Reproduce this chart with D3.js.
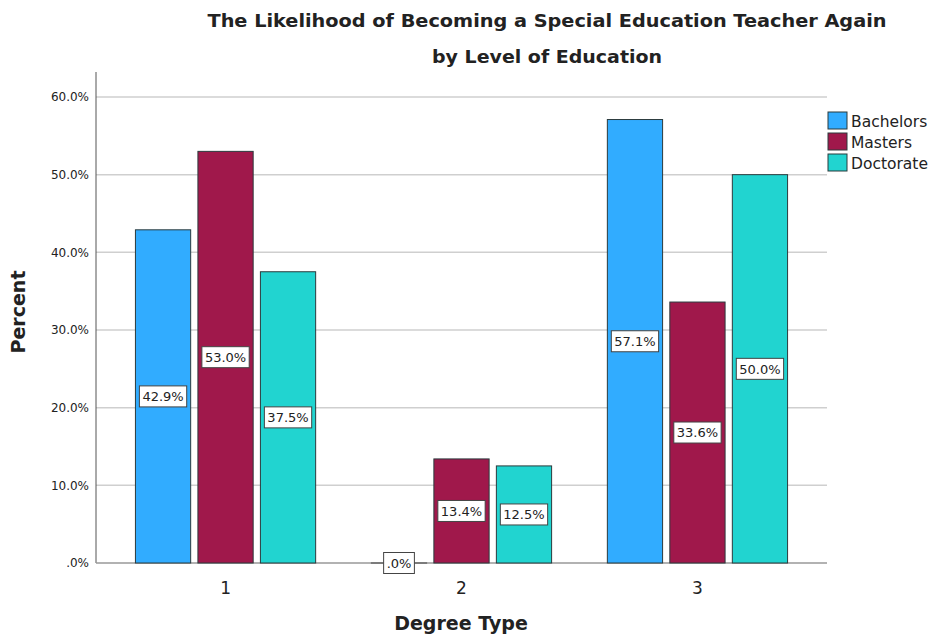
<!DOCTYPE html>
<html>
<head>
<meta charset="utf-8">
<script src="https://cdn.jsdelivr.net/npm/d3@7"></script>
<style>
  body { margin: 0; background: #fff; }
  text { font-family: "DejaVu Sans", Verdana, sans-serif; fill: #222; }
</style>
</head>
<body>
<div class="chart"></div>
<script>
const groups = ["1", "2", "3"];
const seriesNames = ["Bachelors", "Masters", "Doctorate"];
const bachelors = [42.9, 0.0, 57.1];
const masters = [53.0, 13.4, 33.6];
const doctorate = [37.5, 12.5, 50.0];
const yTicks = [0, 10, 20, 30, 40, 50, 60];
const colors = ["#31acff", "#a0184b", "#21d4d0"];

const w = 935, h = 637;
const plotLeft = 96, plotRight = 827, plotTop = 72, plotBottom = 563;

const rows = groups.map((g, i) => ({
    group: g,
    values: [bachelors[i], masters[i], doctorate[i]]
}));

const svg = d3.select(".chart").append("svg")
    .attr("width", w)
    .attr("height", h);

const y = d3.scaleLinear().domain([0, 60]).range([plotBottom, 97]);
const x0 = d3.scaleBand().domain(groups).range([plotLeft, plotRight])
    .paddingInner(0.232).paddingOuter(0.165);
const x1 = d3.scaleBand().domain(seriesNames).range([0, x0.bandwidth()])
    .paddingInner(0.1);

// gridlines
svg.append("g")
    .selectAll("line")
    .data(yTicks.filter(d => d > 0))
    .enter().append("line")
    .attr("x1", plotLeft).attr("x2", plotRight)
    .attr("y1", d => y(d)).attr("y2", d => y(d))
    .attr("stroke", "#cfcfcf")
    .attr("stroke-width", 1.5);

// y axis
const yAxis = d3.axisLeft(y).tickValues(yTicks)
    .tickFormat(d => d === 0 ? ".0%" : d.toFixed(1) + "%")
    .tickSize(0).tickSizeOuter(0);
const yg = svg.append("g")
    .attr("transform", `translate(${plotLeft},0)`)
    .call(yAxis);
yg.select(".domain").attr("d", `M0,${plotTop}V${plotBottom}`).attr("stroke", "#555");
yg.selectAll(".tick text").attr("font-size", 12).attr("fill", "#333").attr("x", -7);

// baseline
svg.append("line")
    .attr("x1", plotLeft).attr("x2", plotRight)
    .attr("y1", y(0)).attr("y2", y(0))
    .attr("stroke", "#999").attr("stroke-width", 1.5);

// bars
const gGroup = svg.append("g").selectAll("g")
    .data(rows)
    .enter().append("g")
    .attr("transform", d => `translate(${x0(d.group)},0)`);

const cells = gGroup.selectAll("g")
    .data(d => d.values.map((v, i) => ({ name: seriesNames[i], value: v, i: i })))
    .enter().append("g");

cells.filter(d => d.value > 0).append("rect")
    .attr("x", d => x1(d.name) + 0.5)
    .attr("y", d => y(d.value))
    .attr("width", x1.bandwidth() - 1)
    .attr("height", d => y(0) - y(d.value))
    .attr("fill", d => colors[d.i])
    .attr("stroke", "#2b3a3d")
    .attr("stroke-width", 1);

cells.filter(d => d.value === 0).append("line")
    .attr("x1", d => x1(d.name)).attr("x2", d => x1(d.name) + x1.bandwidth())
    .attr("y1", y(0)).attr("y2", y(0))
    .attr("stroke", "#444").attr("stroke-width", 1.2);

// value labels
const labels = cells.append("g")
    .attr("transform", d => `translate(${x1(d.name) + x1.bandwidth() / 2},${(y(0) + y(d.value)) / 2})`);
labels.append("text")
    .attr("text-anchor", "middle")
    .attr("dy", "0.36em")
    .attr("font-size", 13)
    .attr("fill", "#222")
    .text(d => d.value === 0 ? ".0%" : d.value.toFixed(1) + "%");
labels.each(function() {
    const g = d3.select(this);
    const b = g.select("text").node().getBBox();
    g.insert("rect", "text")
        .attr("x", b.x - 3).attr("y", -10.5)
        .attr("width", b.width + 6).attr("height", 21)
        .attr("fill", "#fff")
        .attr("stroke", "#444")
        .attr("stroke-width", 1);
});

// x tick labels
svg.append("g").selectAll("text")
    .data(groups)
    .enter().append("text")
    .attr("x", d => x0(d) + x0.bandwidth() / 2)
    .attr("y", 594)
    .attr("text-anchor", "middle")
    .attr("font-size", 17)
    .text(d => d);

// titles
svg.append("text")
    .attr("x", 547).attr("y", 27)
    .attr("text-anchor", "middle")
    .attr("font-size", 18.5).attr("font-weight", "bold")
    .attr("textLength", 679).attr("lengthAdjust", "spacingAndGlyphs")
    .text("The Likelihood of Becoming a Special Education Teacher Again");
svg.append("text")
    .attr("x", 547).attr("y", 63)
    .attr("text-anchor", "middle")
    .attr("font-size", 18.5).attr("font-weight", "bold")
    .attr("textLength", 230).attr("lengthAdjust", "spacingAndGlyphs")
    .text("by Level of Education");

svg.append("text")
    .attr("transform", "translate(25,312) rotate(-90)")
    .attr("text-anchor", "middle")
    .attr("font-size", 19).attr("font-weight", "bold")
    .text("Percent");

svg.append("text")
    .attr("x", 461).attr("y", 630)
    .attr("text-anchor", "middle")
    .attr("font-size", 19).attr("font-weight", "bold")
    .text("Degree Type");

// legend
const legend = svg.append("g").selectAll("g")
    .data(seriesNames)
    .enter().append("g")
    .attr("transform", (d, i) => `translate(828,${112 + i * 21})`);
legend.append("rect")
    .attr("width", 19).attr("height", 17)
    .attr("fill", (d, i) => colors[i])
    .attr("stroke", "#2b3a3d");
legend.append("text")
    .attr("x", 23).attr("y", 9)
    .attr("dy", "0.36em")
    .attr("font-size", 15.5)
    .text(d => d);
</script>
</body>
</html>
